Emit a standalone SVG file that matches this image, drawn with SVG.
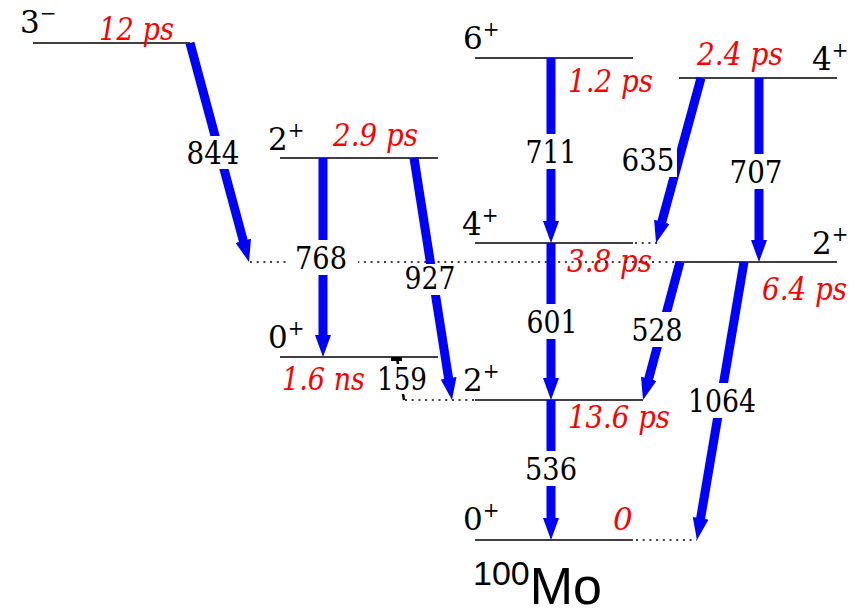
<svg xmlns="http://www.w3.org/2000/svg" width="857" height="614" viewBox="0 0 857 614" font-family="DejaVu Serif, serif">
<style>
.lv{stroke:#000;stroke-width:1.6;fill:none}
.dt{stroke:#000;stroke-width:1.5;stroke-dasharray:2 4.7;fill:none}
.sp{font-size:31px;fill:#000}
.sup{font-size:20px}
.lt{font-size:31px;font-style:italic;fill:#ff0000}
.en{font-size:32px;fill:#000;text-anchor:middle}
.ar{stroke:#0000ff;stroke-width:9;fill:none;marker-end:url(#ah)}
.bg{fill:#fff}
</style>
<defs>
<marker id="ah" markerUnits="userSpaceOnUse" markerWidth="22" markerHeight="16" viewBox="0 0 22 16" refX="2" refY="8" orient="auto">
<path d="M0,0 L22,8 L0,16 Z" fill="#0000ff"/>
</marker>
</defs>
<rect width="857" height="614" fill="#fff"/>

<g id="level-3minus">
<line class="lv" x1="33" y1="43" x2="190" y2="43"/>
<text class="sp" x="20" y="33">3<tspan class="sup" dy="-13">−</tspan></text>
<text class="lt" x="99" y="40" textLength="75" lengthAdjust="spacingAndGlyphs">12 ps</text>
</g>
<g id="level-2plus-left">
<line class="lv" x1="280" y1="158" x2="438" y2="158"/>
<text class="sp" x="268" y="150">2<tspan class="sup" dy="-13">+</tspan></text>
<text class="lt" x="333" y="146" textLength="85" lengthAdjust="spacingAndGlyphs">2.9 ps</text>
</g>
<g id="level-0plus-left">
<line class="lv" x1="280" y1="357" x2="438" y2="357"/>
<text class="sp" x="268" y="348">0<tspan class="sup" dy="-13">+</tspan></text>
<text class="lt" x="282" y="390" textLength="83" lengthAdjust="spacingAndGlyphs">1.6 ns</text>
</g>
<g id="level-6plus">
<line class="lv" x1="475" y1="58" x2="633" y2="58"/>
<text class="sp" x="463" y="49">6<tspan class="sup" dy="-13">+</tspan></text>
<text class="lt" x="568" y="92" textLength="85" lengthAdjust="spacingAndGlyphs">1.2 ps</text>
</g>
<g id="level-4plus-mid">
<line class="lv" x1="475" y1="243" x2="633" y2="243"/>
<line class="dt" x1="635" y1="243" x2="657" y2="243"/>
<text class="sp" x="462" y="235">4<tspan class="sup" dy="-13">+</tspan></text>
<text class="lt" x="567" y="272" textLength="85" lengthAdjust="spacingAndGlyphs">3.8 ps</text>
</g>
<g id="level-4plus-right">
<line class="lv" x1="679" y1="78" x2="837" y2="78"/>
<text class="sp" x="812" y="70">4<tspan class="sup" dy="-13">+</tspan></text>
<text class="lt" x="697" y="65" textLength="86" lengthAdjust="spacingAndGlyphs">2.4 ps</text>
</g>
<g id="level-2plus-right">
<line class="dt" x1="250" y1="262" x2="677" y2="262"/>
<line class="lv" x1="677" y1="262" x2="837" y2="262"/>
<text class="sp" x="812" y="254">2<tspan class="sup" dy="-13">+</tspan></text>
<text class="lt" x="762" y="300" textLength="85" lengthAdjust="spacingAndGlyphs">6.4 ps</text>
</g>
<g id="level-2plus-mid">
<line class="dt" x1="405" y1="400" x2="475" y2="400"/>
<line class="lv" x1="475" y1="400" x2="643" y2="400"/>
<text class="sp" x="463" y="391">2<tspan class="sup" dy="-13">+</tspan></text>
<text class="lt" x="568" y="428" textLength="102" lengthAdjust="spacingAndGlyphs">13.6 ps</text>
</g>
<g id="level-0plus-ground">
<line class="lv" x1="475" y1="540" x2="633" y2="540"/>
<line class="dt" x1="636" y1="540" x2="697" y2="540"/>
<text class="sp" x="463" y="530">0<tspan class="sup" dy="-13">+</tspan></text>
<text class="lt" x="613" y="530">0</text>
</g>

<g id="connectors">
<line class="ar" x1="190" y1="43" x2="243.8" y2="242.7"/>
<line class="ar" x1="323" y1="158" x2="323" y2="337"/>
<line class="ar" x1="414" y1="158" x2="448.9" y2="380.2"/>
<line class="ar" x1="551" y1="58" x2="551" y2="223"/>
<line class="ar" x1="551" y1="243" x2="551" y2="380"/>
<line class="ar" x1="551" y1="400" x2="551" y2="520"/>
<line class="ar" x1="701" y1="78" x2="661.3" y2="223.7"/>
<line class="ar" x1="759" y1="78" x2="759" y2="242"/>
<line class="ar" x1="680" y1="262" x2="648.2" y2="380.7"/>
<line class="ar" x1="744" y1="262" x2="700.3" y2="520.3"/>
<line x1="397" y1="358" x2="404" y2="400" stroke="#000" stroke-width="2.5"/>
<rect x="391" y="357" width="11" height="4" fill="#000"/>
</g>

<g id="gamma-labels">
<rect class="bg" x="183" y="136" width="62" height="33"/>
<text class="en" x="213" y="164" textLength="53" lengthAdjust="spacingAndGlyphs">844</text>
<rect class="bg" x="290" y="240" width="68" height="35"/>
<text class="en" x="321" y="269" textLength="52" lengthAdjust="spacingAndGlyphs">768</text>
<rect class="bg" x="401" y="264" width="58" height="31"/>
<text class="en" x="430" y="289" textLength="51" lengthAdjust="spacingAndGlyphs">927</text>
<rect class="bg" x="522" y="134" width="58" height="35"/>
<text class="en" x="551" y="163" textLength="51" lengthAdjust="spacingAndGlyphs">711</text>
<rect class="bg" x="522" y="304" width="58" height="35"/>
<text class="en" x="552" y="333" textLength="51" lengthAdjust="spacingAndGlyphs">601</text>
<rect class="bg" x="522" y="451" width="58" height="35"/>
<text class="en" x="551" y="480" textLength="52" lengthAdjust="spacingAndGlyphs">536</text>
<rect class="bg" x="619" y="142" width="58" height="35"/>
<text class="en" x="648" y="171" textLength="53" lengthAdjust="spacingAndGlyphs">635</text>
<rect class="bg" x="727" y="154" width="58" height="35"/>
<text class="en" x="756" y="183" textLength="53" lengthAdjust="spacingAndGlyphs">707</text>
<rect class="bg" x="628" y="312" width="58" height="35"/>
<text class="en" x="657" y="341" textLength="51" lengthAdjust="spacingAndGlyphs">528</text>
<rect class="bg" x="684" y="383" width="76" height="35"/>
<text class="en" x="722" y="412" textLength="68" lengthAdjust="spacingAndGlyphs">1064</text>
<rect class="bg" x="376" y="364" width="53" height="30"/>
<text class="en" x="402" y="390" textLength="50" lengthAdjust="spacingAndGlyphs">159</text>
</g>

<g id="nucleus-label">
<text x="473" y="604" font-family="Liberation Sans, sans-serif" fill="#000"><tspan font-size="34" y="585">100</tspan><tspan font-size="52" y="604">Mo</tspan></text>
</g>
</svg>
